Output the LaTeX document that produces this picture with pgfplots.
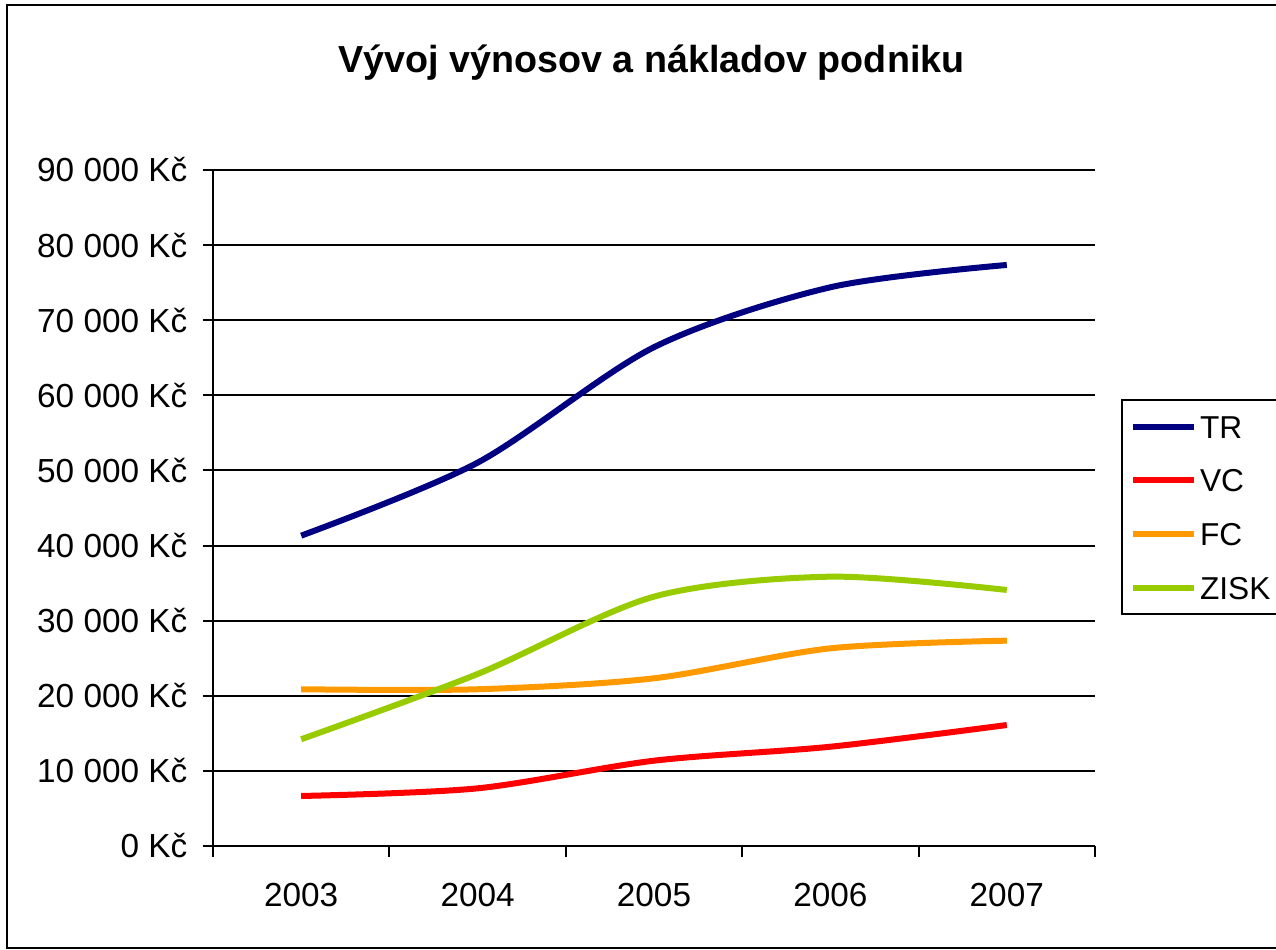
\documentclass[border=0pt]{standalone}
\usepackage{fontspec}
\setmainfont{Liberation Sans}
\usepackage{pgfplots}
\pgfplotsset{compat=1.18}
\definecolor{trc}{HTML}{000080}
\definecolor{vcc}{HTML}{FF0000}
\definecolor{fcc}{HTML}{FF9900}
\definecolor{zic}{HTML}{99CC00}
\begin{document}
\begin{tikzpicture}
\useasboundingbox (0,0) rectangle (382.8pt,284.7pt);
\draw[line width=0.6pt] (2.2pt,0.45pt) rectangle (395pt,283.3pt);
\node[anchor=base, inner sep=0pt, font=\fontsize{11.3}{13}\selectfont\bfseries] at (195.45pt,263.1pt) {Vývoj výnosov a nákladov podniku};
\begin{axis}[
  at={(63.9pt,30.9pt)}, anchor=south west,
  scale only axis, width=264.6pt, height=202.8pt,
  xmin=-0.5, xmax=4.5, ymin=0, ymax=90000,
  axis x line*=bottom, axis y line*=left,
  axis line style={line width=0.6pt, black},
  tick align=outside, major tick length=3pt, minor tick length=3.2pt,
  tick style={line width=0.6pt, black},
  xtick={0,1,2,3,4}, xticklabels={2003,2004,2005,2006,2007},
  major x tick style={draw=none},
  minor xtick={-0.5,0.5,1.5,2.5,3.5,4.5},
  scaled y ticks=false,
  ytick={0,10000,20000,30000,40000,50000,60000,70000,80000,90000},
  yticklabels={0 Kč,10 000 Kč,20 000 Kč,30 000 Kč,40 000 Kč,50 000 Kč,60 000 Kč,70 000 Kč,80 000 Kč,90 000 Kč},
  ymajorgrids, grid style={line width=0.6pt, black},
  ticklabel style={font=\fontsize{10}{12}\selectfont, inner sep=0pt},
  yticklabel style={anchor=east, xshift=-4.5pt},
  xticklabel style={anchor=north, yshift=-8.1pt},
  legend style={at={(axis description cs:1.0295,0.6612)}, anchor=north west,
    draw=black, line width=0.6pt, inner xsep=2.4pt, inner ysep=4.45pt,
    row sep=9.1pt, font=\fontsize{9.5}{11}\selectfont,
    nodes={inner sep=0pt, text height=7pt, text depth=0pt}},
  legend cell align=left,
  legend image code/.code={\draw[#1, line width=1.8pt] (0pt,0pt) -- (18.3pt,0pt); \path (19.2pt,0pt);},
  every axis plot/.append style={line width=1.8pt, smooth, no markers},
]
\addplot[trc] coordinates {(0,41320) (1,51040) (2,66410) (3,74390) (4,77360)};
\addlegendentry{TR}
\addplot[vcc] coordinates {(0,6660) (1,7680) (2,11360) (3,13220) (4,16110)};
\addlegendentry{VC}
\addplot[fcc] coordinates {(0,20870) (1,20870) (2,22330) (3,26320) (4,27340)};
\addlegendentry{FC}
\addplot[zic] coordinates {(0,14210) (1,22900) (2,33200) (3,35860) (4,34090)};
\addlegendentry{ZISK\hspace*{40pt}}
\end{axis}
\end{tikzpicture}
\end{document}
